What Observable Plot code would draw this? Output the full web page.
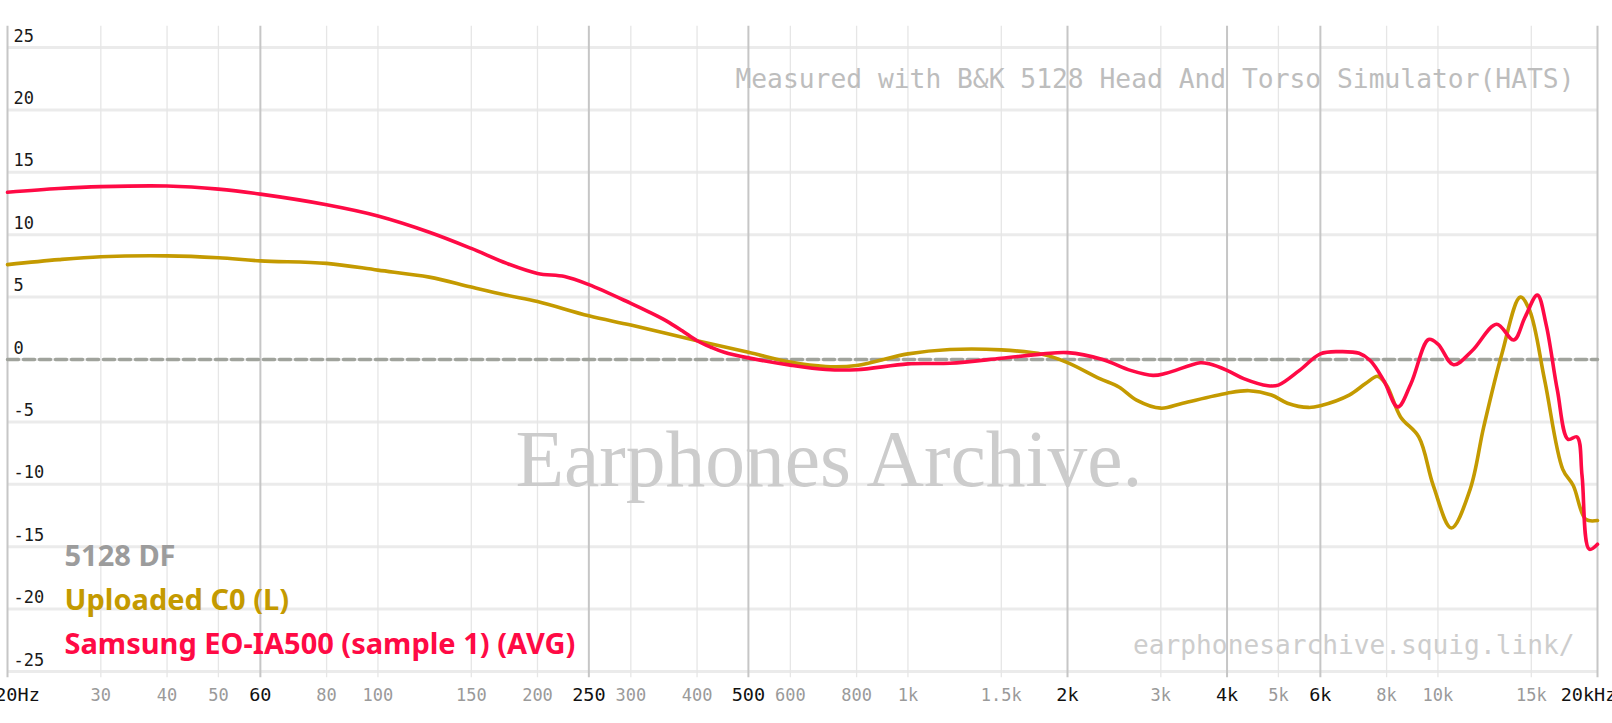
<!DOCTYPE html>
<html>
<head>
<meta charset="utf-8">
<script src="https://cdn.jsdelivr.net/npm/d3@7"></script>
<script src="https://cdn.jsdelivr.net/npm/@observablehq/plot@0.6"></script>
<style>
  html, body { margin: 0; padding: 0; background: #fff; overflow: hidden; }
  #chart svg { display: block; }
</style>
</head>
<body>
<div id="chart"></div>
<script>
// ---- data ----
const samsungFreq = [20,25,30,40,50,60,80,100,125,150,175,200,225,250,300,325,350,375,400,425,450,500,600,700,800,1000,1200,1500,1800,2000,2330,2630,2900,3070,3560,3700,4000,4300,4780,5000,5480,6000,6500,7100,7450,7900,8400,8900,9600,10000,10700,11600,12900,13900,14600,15400,16000,16800,17600,18300,18700,19300,20000];
const samsungDb   = [13.4,13.7,13.85,13.9,13.65,13.25,12.4,11.5,10.2,8.9,7.7,6.9,6.65,6.0,4.5,3.8,3.1,2.3,1.5,0.98,0.58,0.13,-0.45,-0.8,-0.82,-0.35,-0.3,0.1,0.45,0.55,0.0,-0.87,-1.27,-1.1,-0.26,-0.35,-0.87,-1.53,-2.1,-2.05,-0.87,0.45,0.63,0.5,-0.08,-1.67,-3.8,-1.9,1.6,1.24,-0.42,0.7,2.83,1.56,3.4,5.16,2.8,-2.46,-6.4,-6.2,-9.3,-15.2,-14.8];

const uploadedFreq = [20,25,30,40,50,60,80,100,125,150,175,200,250,300,400,500,600,700,800,1000,1200,1500,1800,2000,2300,2500,2700,3000,3300,4000,4400,4850,5200,5700,6000,6800,7300,7700,8000,8500,9200,9800,10600,11500,12200,13200,14300,14900,15900,17200,18000,19000,20000];
const uploadedDb   = [7.6,8.0,8.23,8.3,8.15,7.9,7.7,7.16,6.6,5.8,5.15,4.65,3.5,2.76,1.5,0.58,-0.21,-0.56,-0.48,0.45,0.8,0.77,0.4,-0.25,-1.53,-2.2,-3.25,-3.9,-3.5,-2.7,-2.5,-2.85,-3.5,-3.84,-3.7,-2.85,-1.93,-1.35,-2.06,-4.6,-6.2,-10.1,-13.5,-10.4,-5.4,0.45,5.0,3.9,-1.67,-8.8,-10.1,-12.8,-12.9];

const targetFreq = [20, 20000];
const targetDb   = [0, 0];

const minorTicks = [30,40,50,80,100,150,200,300,400,600,800,1000,1500,3000,5000,8000,10000,15000];
const majorTicks = [60,250,500,2000,4000,6000];
const edgeTicks  = [20, 20000];
const yTicks = [25,20,15,10,5,0,-5,-10,-15,-20,-25];

const legendNames  = ["5128 DF", "Uploaded C0 (L)", "Samsung EO-IA500 (sample 1) (AVG)"];
const legendColors = ["#9c9c9c", "#c49a00", "#ff0a45"];

// ---- helpers ----
const toRows = (fs, vs) => fs.map((f, i) => ({f, v: vs[i]}));
const fmt = f => f === 20 ? "20Hz" : f === 20000 ? "20kHz" : (f >= 1000 ? (f / 1000) + "k" : String(f));
const mono = "DejaVu Sans Mono, monospace";
const sans = "Noto Sans, Open Sans, sans-serif";

const legendMark = (i, dy) => Plot.text([legendNames[i]], {frameAnchor: "bottom-left", dx: 57, dy,
  lineAnchor: "bottom", textAnchor: "start", fontFamily: sans, fontWeight: "bold", fontSize: 29, fill: legendColors[i]});

const chart = Plot.plot({
  width: 1612,
  height: 723,
  marginLeft: 7,
  marginRight: 15,
  marginTop: 47,
  marginBottom: 52,
  x: {type: "log", domain: [20, 20000], axis: null},
  y: {domain: [-25, 25], axis: null},
  style: {background: "#fff", overflow: "visible"},
  marks: [
    // horizontal grid
    Plot.ruleY(yTicks, {y: d => d, x1: 20, x2: 20000, stroke: "#ebebeb", strokeWidth: 3}),
    // vertical grid
    Plot.ruleX(minorTicks, {x: d => d, y1: 26.7, y2: -25.5, stroke: "#e6e6e6", strokeWidth: 1.3}),
    Plot.ruleX(majorTicks.concat(edgeTicks), {x: d => d, y1: 26.7, y2: -25.5, stroke: "#c6c6c6", strokeWidth: 2}),
    // watermarks
    Plot.text(["Earphones Archive."], {frameAnchor: "top-left", dx: 508, dy: 438, lineAnchor: "bottom", textAnchor: "start",
      fontFamily: "Liberation Serif, serif", fontSize: 79.5, fill: "#cccccc"}),
    Plot.text(["Measured with B&K 5128 Head And Torso Simulator(HATS)"], {frameAnchor: "top-right", dx: -23, dy: 40, lineAnchor: "bottom", textAnchor: "end",
      fontFamily: mono, fontSize: 26.3, fill: "#bdbdbd"}),
    Plot.text(["earphonesarchive.squig.link/"], {frameAnchor: "bottom-right", dx: -23, dy: -18, lineAnchor: "bottom", textAnchor: "end",
      fontFamily: mono, fontSize: 26.2, fill: "#cdcdcd"}),
    // y labels
    Plot.text(yTicks, {x: 20, y: d => d, text: d => String(d), dx: 6, dy: -6, lineAnchor: "bottom", textAnchor: "start",
      fontFamily: mono, fontSize: 17, fill: "#1a1a1a"}),
    // x labels
    Plot.text(minorTicks, {x: d => d, y: -25, text: fmt, dy: 29, lineAnchor: "bottom", textAnchor: "middle",
      fontFamily: mono, fontSize: 17, fill: "#9a9a9a"}),
    Plot.text(majorTicks, {x: d => d, y: -25, text: fmt, dy: 29.5, lineAnchor: "bottom", textAnchor: "middle",
      fontFamily: mono, fontSize: 18.5, fill: "#111"}),
    Plot.text([edgeTicks[0]], {x: d => d, y: -25, text: fmt, dx: 10, dy: 29.5, lineAnchor: "bottom", textAnchor: "middle",
      fontFamily: mono, fontSize: 18.5, fill: "#111"}),
    Plot.text([edgeTicks[1]], {x: d => d, y: -25, text: fmt, dx: -9, dy: 29.5, lineAnchor: "bottom", textAnchor: "middle",
      fontFamily: mono, fontSize: 18.5, fill: "#111"}),
    // target
    Plot.line(toRows(targetFreq, targetDb), {x: "f", y: "v", stroke: "#a0a39c", strokeWidth: 3.5, strokeDasharray: "11 5"}),
    // curves
    Plot.line(toRows(uploadedFreq, uploadedDb), {x: "f", y: "v", stroke: legendColors[1], strokeWidth: 3.6, curve: "catmull-rom"}),
    Plot.line(toRows(samsungFreq, samsungDb), {x: "f", y: "v", stroke: legendColors[2], strokeWidth: 3.6, curve: "catmull-rom"}),
    // legend
    legendMark(0, -106),
    legendMark(1, -62),
    legendMark(2, -18)
  ]
});

document.getElementById("chart").appendChild(chart);
</script>
</body>
</html>
